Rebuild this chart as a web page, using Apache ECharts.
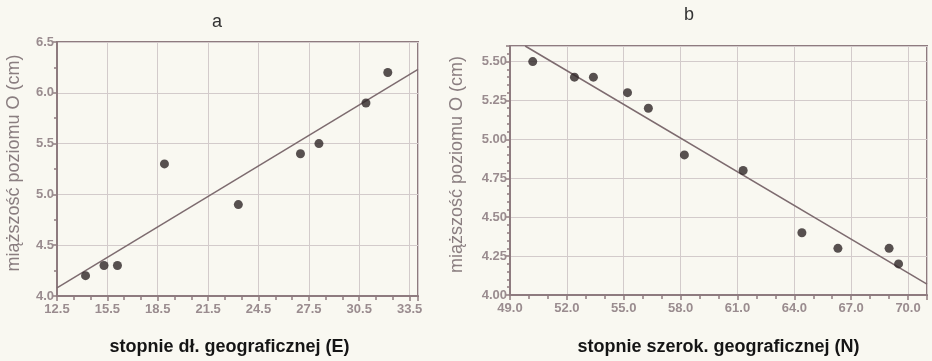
<!DOCTYPE html>
<html><head><meta charset="utf-8">
<script src="https://cdn.jsdelivr.net/npm/echarts@6/dist/echarts.min.js"></script>
<style>html,body{margin:0;padding:0;background:#f9f8f1}#c{width:932px;height:361px}</style>
</head><body><div id="c"></div>
<script>
// Chart a: longitude (E)
const lonX = [14.2, 15.3, 16.1, 18.9, 23.3, 27.0, 28.1, 30.9, 32.2];
const lonY = [4.2, 4.3, 4.3, 5.3, 4.9, 5.4, 5.5, 5.9, 6.2];
const lonFit = [[12.5, 4.08], [34.0, 6.23]];
// Chart b: latitude (N)
const latX = [50.2, 52.4, 53.4, 55.2, 56.3, 58.2, 61.3, 64.4, 66.3, 69.0, 69.5];
const latY = [5.5, 5.4, 5.4, 5.3, 5.2, 4.9, 4.8, 4.4, 4.3, 4.3, 4.2];
const latFit = [[49.8, 5.6], [71.0, 4.07]];
const titles = ['a', 'b'];
const yName = 'miąższość poziomu O (cm)';
const xNames = ['stopnie dł. geograficznej (E)', 'stopnie szerok. geograficznej (N)'];

const axisCol = '#8e7b7f', gridCol = '#d3cbcb', labCol = '#9a8c8f';
const font = 'Liberation Sans, Arial, sans-serif';
function pts(xs, ys) { return xs.map((x, i) => [x, ys[i]]); }
function xAx(idx, min, max, interval, name, gap, pad) {
  return {
    type: 'value', gridIndex: idx, min, max, interval, name,
    nameLocation: 'middle', nameGap: gap,
    nameTextStyle: {color: '#151515', fontWeight: 'bold', fontSize: 18, fontFamily: font, padding: pad},
    axisLine: {show: true, lineStyle: {color: axisCol, width: 2}},
    axisTick: {show: true, length: 5, lineStyle: {color: axisCol, width: 1.5}},
    minorTick: {show: true, splitNumber: 3, length: 4, lineStyle: {color: axisCol, width: 1.5}},
    splitLine: {show: true, lineStyle: {color: gridCol, width: 1}},
    axisLabel: {color: labCol, fontWeight: 'bold', fontSize: 13, fontFamily: font, margin: 7,
      showMaxLabel: false, formatter: v => v.toFixed(1)}
  };
}
function yAx(idx, min, max, interval, dec, gap, split, showMax) {
  return {
    type: 'value', gridIndex: idx, min, max, interval, name: yName,
    nameLocation: 'middle', nameGap: gap,
    nameTextStyle: {color: '#8a7e80', fontSize: 18, fontFamily: font, padding: [0, 0, 0, 12]},
    axisLine: {show: true, lineStyle: {color: axisCol, width: 2}},
    axisTick: {show: true, length: 4, lineStyle: {color: axisCol, width: 1.5}},
    minorTick: {show: true, splitNumber: split, length: 3, lineStyle: {color: axisCol, width: 1.5}},
    splitLine: {show: true, lineStyle: {color: gridCol, width: 1}},
    axisLabel: {color: labCol, fontWeight: 'bold', fontSize: 13, fontFamily: font, margin: 3,
      showMaxLabel: showMax, formatter: v => v.toFixed(dec)}
  };
}
const chart = echarts.init(document.getElementById('c'), null, {renderer: 'canvas'});
chart.setOption({
  backgroundColor: '#f9f8f1',
  animation: false,
  title: [
    {text: titles[0], left: 212, top: 8, textAlign: 'center',
      textStyle: {fontSize: 18, fontWeight: 'normal', color: '#333', fontFamily: font}},
    {text: titles[1], left: 684, top: 1, textAlign: 'center',
      textStyle: {fontSize: 18, fontWeight: 'normal', color: '#333', fontFamily: font}}
  ],
  grid: [
    {left: 57, top: 42, width: 361, height: 254, show: true, borderColor: axisCol, borderWidth: 2, backgroundColor: 'transparent'},
    {left: 510, top: 46, width: 417, height: 252, show: true, borderColor: axisCol, borderWidth: 2, backgroundColor: 'transparent'}
  ],
  xAxis: [xAx(0, 12.5, 34.0, 3, xNames[0], 42, [0, 16, 0, 0]), xAx(1, 49, 71, 3, xNames[1], 43, [0, 0, 0, 0])],
  yAxis: [yAx(0, 4.0, 6.5, 0.5, 1, 34, 2, true), yAx(1, 4.0, 5.6, 0.25, 2, 44, 5, false)],
  series: [
    {type: 'scatter', xAxisIndex: 0, yAxisIndex: 0, data: pts(lonX, lonY), symbolSize: 9, itemStyle: {color: '#2e2527'}, z: 5},
    {type: 'line', xAxisIndex: 0, yAxisIndex: 0, data: lonFit, symbol: 'none', lineStyle: {color: '#7d6b6f', width: 1.5}},
    {type: 'scatter', xAxisIndex: 1, yAxisIndex: 1, data: pts(latX, latY), symbolSize: 9, itemStyle: {color: '#2e2527'}, z: 5},
    {type: 'line', xAxisIndex: 1, yAxisIndex: 1, data: latFit, symbol: 'none', lineStyle: {color: '#7d6b6f', width: 1.5}}
  ]
});
</script>
</body></html>
